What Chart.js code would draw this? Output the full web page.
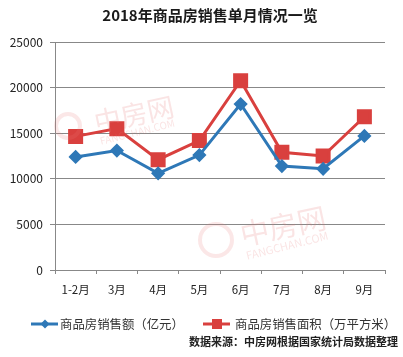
<!DOCTYPE html>
<html><head><meta charset="utf-8">
<script src="https://cdn.jsdelivr.net/npm/chart.js@4/dist/chart.umd.min.js"></script>
<style>
html,body{margin:0;padding:0;background:#fff;}
#wrap{position:relative;width:403px;height:357px;overflow:hidden;font-family:"Noto Sans CJK SC","Noto Sans",sans-serif;}
canvas{position:absolute;left:0;top:0;}
.wm{position:absolute;color:rgba(232,120,120,0.2);font-weight:normal;white-space:nowrap;pointer-events:none;transform-origin:left center;}
.circ{position:absolute;border-radius:50%;border:4px solid rgba(232,120,120,0.18);pointer-events:none;}
#legend{position:absolute;top:315px;left:0;width:403px;height:18px;font-size:12.4px;color:#333;}
.li{position:absolute;top:0;display:flex;align-items:center;height:18px;}
#src{position:absolute;left:189px;top:333px;font-size:11px;font-weight:bold;color:#222;white-space:nowrap;}
</style></head>
<body><div id="wrap">
<canvas id="c" width="403" height="357"></canvas>
<div class="circ" style="left:54px;top:112px;width:20px;height:20px;"></div>
<div class="wm" style="left:94px;top:102px;font-size:27px;transform:rotate(-12deg);">中房网</div>
<div class="wm" style="left:100px;top:133px;font-size:10px;transform:rotate(-14deg);">FANGCHAN.COM</div>
<div class="circ" style="left:198px;top:222px;width:28px;height:28px;"></div>
<div class="wm" style="left:240px;top:212px;font-size:29px;transform:rotate(-12deg);">中房网</div>
<div class="wm" style="left:246px;top:247px;font-size:11px;transform:rotate(-14deg);">FANGCHAN.COM</div>
<div id="legend">
 <div class="li" style="left:31px;"><svg width="27" height="12"><line x1="0" y1="6" x2="27" y2="6" stroke="#2E78B7" stroke-width="3"/><polygon points="14,1.5 18.5,6 14,10.5 9.5,6" fill="#2E78B7"/></svg><span style="margin-left:2px;">商品房销售额（亿元）</span></div>
 <div class="li" style="left:203px;"><svg width="27" height="12"><line x1="0" y1="6" x2="27" y2="6" stroke="#D9403E" stroke-width="3"/><rect x="9" y="1" width="10" height="10" fill="#D9403E"/></svg><span style="margin-left:5px;">商品房销售面积（万平方米）</span></div>
</div>
<div id="src">数据来源：中房网根据国家统计局数据整理</div>
</div>
<script>
const categories = ["1-2月","3月","4月","5月","6月","7月","8月","9月"];
const salesAmount = [12400, 13100, 10600, 12600, 18200, 11400, 11100, 14700];
const salesArea = [14650, 15500, 12100, 14200, 20750, 12900, 12500, 16800];
const yTicks = [0, 5000, 10000, 15000, 20000, 25000];
const titleText = "2018年商品房销售单月情况一览";

const fam = '"Noto Sans CJK SC","Noto Sans",sans-serif';
const titlePlugin = {
  id:'centerTitle',
  afterDraw(chart){
    const ctx = chart.ctx;
    ctx.save();
    ctx.font = 'bold 15px ' + fam;
    ctx.fillStyle = '#1a1a1a';
    ctx.textAlign = 'center';
    ctx.textBaseline = 'middle';
    ctx.fillText(titleText, 210, 15);
    ctx.restore();
  }
};
new Chart(document.getElementById('c'), {
  type: 'line',
  data: {
    labels: categories,
    datasets: [
      {label:'商品房销售额（亿元）', data: salesAmount, borderColor:'#2E78B7', backgroundColor:'#2E78B7', borderWidth:3, pointStyle:'rectRot', pointRadius:5, pointHoverRadius:5, tension:0},
      {label:'商品房销售面积（万平方米）', data: salesArea, borderColor:'#D9403E', backgroundColor:'#D9403E', borderWidth:3, pointStyle:'rect', pointRadius:8.5, pointHoverRadius:8.5, tension:0}
    ]
  },
  options: {
    responsive:false, animation:false,
    layout:{padding:{left:0,right:18,top:42,bottom:0}},
    plugins:{
      legend:{display:false},
      tooltip:{enabled:false},
      title:{display:false}
    },
    scales:{
      x:{
        offset:true,
        grid:{drawOnChartArea:false, drawTicks:true, tickLength:4, color:'#888', offset:true},
        border:{color:'#888', width:1},
        ticks:{color:'#222', font:{family:fam,size:11.5}, padding:9, maxRotation:0},
        afterFit:(s)=>{s.height=87;}
      },
      y:{
        min:0, max:25000,
        afterBuildTicks:(s)=>{s.ticks = yTicks.map(v=>({value:v}));},
        grid:{color:'#888', tickLength:5, lineWidth:1},
        border:{color:'#888', width:1},
        ticks:{color:'#222', font:{family:fam,size:12}, padding:7, callback:(v)=>String(v)},
        afterFit:(s)=>{s.width=55;}
      }
    }
  },
  plugins:[titlePlugin]
});
</script>
</body></html>
